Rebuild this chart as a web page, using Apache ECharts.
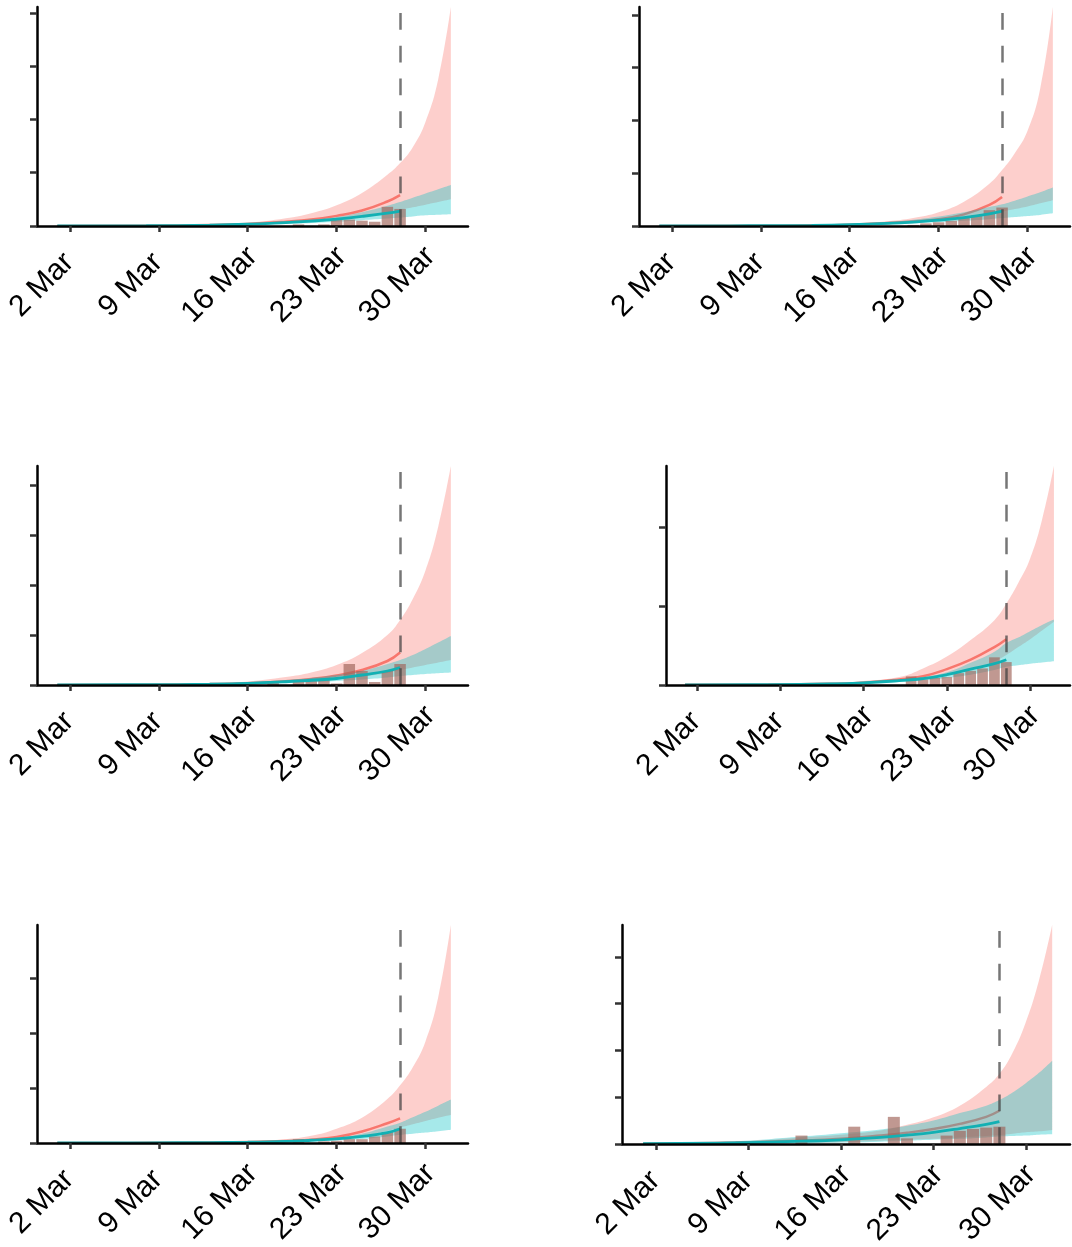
<!DOCTYPE html>
<html>
<head>
<meta charset="utf-8">
<script src="https://cdn.jsdelivr.net/npm/echarts@6/dist/echarts.min.js"></script>
<style>
html,body{margin:0;padding:0;background:#fff;}
#chart{width:1072px;height:1247px;}
</style>
</head>
<body>
<div id="chart"></div>
<script>
// ---------------- DATA ----------------
// day index: 0 = 1 Mar
const bandDays = [0, 7, 12, 15, 18, 20, 22, 24, 26, 27, 28, 29, 30, 31];
const lineDays = [0, 7, 12, 15, 18, 20, 22, 24, 26, 27];
const barDays  = [0,1,2,3,4,5,6,7,8,9,10,11,12,13,14,15,16,17,18,19,20,21,22,23,24,25,26,27];
const tickDays   = [1, 8, 15, 22, 29];
const tickLabels = ['2 Mar', '9 Mar', '16 Mar', '23 Mar', '30 Mar'];
const cutoffDay = 27;
const yMax   = [4.11, 4.15, 4.38, 2.77, 3.97, 4.68];
const yTicks = [[0,1,2,3,4],[0,1,2,3,4],[0,1,2,3,4],[0,1,2],[0,1,2,3],[0,1,2,3,4]];

const redUpper = [
  [0.005, 0.012, 0.03, 0.06, 0.145, 0.24, 0.39, 0.62, 0.96, 1.18, 1.48, 1.95, 2.75, 4.11],
  [0.003, 0.008, 0.02, 0.04, 0.09, 0.15, 0.26, 0.46, 0.8, 1.06, 1.38, 1.8, 2.6, 4.15],
  [0.003, 0.01, 0.03, 0.07, 0.16, 0.25, 0.4, 0.64, 1.0, 1.3, 1.72, 2.29, 3.16, 4.38],
  [0.002, 0.007, 0.02, 0.05, 0.1, 0.21, 0.36, 0.57, 0.82, 1.03, 1.29, 1.6, 2.09, 2.77],
  [0.002, 0.005, 0.015, 0.03, 0.07, 0.13, 0.26, 0.46, 0.8, 1.05, 1.38, 1.85, 2.65, 3.97],
  [0.01, 0.05, 0.14, 0.2, 0.29, 0.41, 0.57, 0.82, 1.22, 1.5, 1.95, 2.6, 3.5, 4.68]
];
const redLower = [
  [0, 0.004, 0.012, 0.025, 0.05, 0.08, 0.12, 0.18, 0.25, 0.3, 0.35, 0.4, 0.45, 0.5],
  [0, 0.003, 0.01, 0.02, 0.04, 0.06, 0.09, 0.14, 0.22, 0.27, 0.32, 0.37, 0.43, 0.49],
  [0, 0.004, 0.012, 0.025, 0.05, 0.08, 0.12, 0.17, 0.24, 0.3, 0.35, 0.4, 0.45, 0.5],
  [0, 0.003, 0.01, 0.02, 0.05, 0.08, 0.13, 0.19, 0.3, 0.38, 0.48, 0.58, 0.69, 0.8],
  [0, 0.002, 0.006, 0.012, 0.03, 0.05, 0.08, 0.13, 0.22, 0.28, 0.34, 0.4, 0.46, 0.51],
  [0, 0.005, 0.02, 0.04, 0.07, 0.09, 0.11, 0.14, 0.17, 0.19, 0.22, 0.25, 0.27, 0.3]
];
const redLine = [
  [0.002, 0.006, 0.018, 0.038, 0.08, 0.12, 0.19, 0.29, 0.46, 0.58],
  [0.002, 0.005, 0.012, 0.025, 0.055, 0.085, 0.13, 0.22, 0.4, 0.55],
  [0.002, 0.006, 0.018, 0.035, 0.075, 0.12, 0.19, 0.3, 0.48, 0.65],
  [0.002, 0.005, 0.015, 0.03, 0.07, 0.11, 0.2, 0.32, 0.48, 0.58],
  [0.001, 0.003, 0.008, 0.016, 0.035, 0.06, 0.11, 0.21, 0.36, 0.45],
  [0.005, 0.03, 0.07, 0.11, 0.18, 0.24, 0.32, 0.43, 0.58, 0.71]
];
const tealUpper = [
  [0.004, 0.01, 0.025, 0.05, 0.09, 0.12, 0.17, 0.26, 0.38, 0.45, 0.53, 0.61, 0.69, 0.77],
  [0.003, 0.008, 0.02, 0.04, 0.08, 0.12, 0.18, 0.26, 0.36, 0.41, 0.48, 0.56, 0.64, 0.73],
  [0.004, 0.01, 0.03, 0.055, 0.1, 0.14, 0.2, 0.28, 0.42, 0.5, 0.6, 0.72, 0.85, 0.98],
  [0.003, 0.008, 0.02, 0.04, 0.07, 0.1, 0.16, 0.28, 0.42, 0.53, 0.6, 0.68, 0.76, 0.83],
  [0.002, 0.005, 0.012, 0.025, 0.045, 0.07, 0.1, 0.17, 0.3, 0.37, 0.47, 0.57, 0.68, 0.79],
  [0.01, 0.06, 0.16, 0.23, 0.31, 0.39, 0.5, 0.66, 0.82, 0.94, 1.1, 1.3, 1.52, 1.78]
];
const tealLower = [
  [0, 0.003, 0.01, 0.02, 0.04, 0.055, 0.08, 0.11, 0.14, 0.16, 0.18, 0.2, 0.21, 0.22],
  [0, 0.002, 0.008, 0.015, 0.035, 0.05, 0.07, 0.1, 0.13, 0.15, 0.17, 0.19, 0.21, 0.24],
  [0, 0.003, 0.01, 0.02, 0.04, 0.055, 0.08, 0.11, 0.15, 0.18, 0.2, 0.22, 0.235, 0.25],
  [0, 0.003, 0.01, 0.02, 0.04, 0.06, 0.09, 0.13, 0.19, 0.23, 0.25, 0.27, 0.285, 0.3],
  [0, 0.001, 0.004, 0.008, 0.018, 0.03, 0.05, 0.075, 0.12, 0.15, 0.17, 0.19, 0.215, 0.24],
  [0, 0.005, 0.015, 0.03, 0.05, 0.07, 0.09, 0.11, 0.14, 0.16, 0.17, 0.18, 0.2, 0.21]
];
const tealLine = [
  [0.002, 0.005, 0.015, 0.033, 0.065, 0.09, 0.13, 0.18, 0.24, 0.28],
  [0.002, 0.005, 0.012, 0.025, 0.05, 0.075, 0.11, 0.16, 0.23, 0.28],
  [0.002, 0.006, 0.016, 0.033, 0.065, 0.095, 0.13, 0.2, 0.28, 0.35],
  [0.002, 0.005, 0.014, 0.028, 0.055, 0.08, 0.13, 0.2, 0.27, 0.32],
  [0.001, 0.003, 0.007, 0.014, 0.03, 0.05, 0.075, 0.12, 0.19, 0.26],
  [0.005, 0.025, 0.06, 0.09, 0.14, 0.19, 0.25, 0.33, 0.42, 0.48]
];
const cases = [
  [0,0,0,0,0,0,0,0,0,0, 0,0,0,0,0,0,0,0,0,0.03, 0,0.03,0.12,0.12,0.1,0.08,0.36,0.32],
  [0,0,0,0,0,0,0,0,0,0, 0,0,0,0,0,0,0,0,0,0, 0.02,0.05,0.07,0.1,0.17,0.2,0.3,0.35],
  [0,0,0,0,0,0,0,0,0,0, 0,0,0,0,0,0,0,0.08,0,0.06, 0.08,0.12,0.03,0.42,0.28,0.06,0.28,0.42],
  [0,0,0,0,0,0,0,0,0,0, 0,0,0,0,0,0,0,0,0,0.11, 0.07,0.09,0.1,0.15,0.18,0.21,0.35,0.29],
  [0,0,0,0,0,0,0,0,0,0, 0,0,0,0,0,0,0,0,0,0.07, 0,0.03,0.04,0.07,0.07,0.12,0.2,0.26],
  [0,0,0,0,0,0,0,0,0,0, 0,0,0.18,0,0,0,0.37,0,0,0.58, 0.12,0,0,0.18,0.28,0.32,0.35,0.37]
];

// ---------------- LAYOUT ----------------
const grids = [
  {left: 37,  top: 7,   width: 431, height: 219},
  {left: 639, top: 7,   width: 431, height: 219},
  {left: 37,  top: 466, width: 431, height: 219},
  {left: 666, top: 466, width: 404, height: 219},
  {left: 37,  top: 925, width: 431, height: 218},
  {left: 622, top: 925, width: 448, height: 219}
];
const xMinDay = -1.6, xMaxDay = 32.35;

const DAY = 86400000;
const START = Date.UTC(2020, 2, 1);
const ts = d => START + d * DAY;
const FONT = '"Liberation Sans", Arial, Helvetica, sans-serif';
const RED = '#F8766D', TEAL = '#00BFC4';
const BAR_FILL = 'rgba(159,98,88,0.66)';
const BAR_GAP = 1.2;

const option = {
  animation: false,
  useUTC: true,
  backgroundColor: '#ffffff',
  grid: [], xAxis: [], yAxis: [], series: []
};

grids.forEach((g, i) => {
  option.grid.push(Object.assign({containLabel: false, outerBoundsMode: 'none'}, g));
  // visible axis, in day units (ticks and labels)
  option.xAxis.push({
    type: 'value', gridIndex: i, position: 'bottom', min: xMinDay, max: xMaxDay, z: 20,
    axisLine: {show: true, onZero: false, lineStyle: {color: '#000', width: 2.5}},
    axisTick: {show: true, customValues: tickDays, length: 6, lineStyle: {color: '#333', width: 2.5}},
    axisLabel: {
      show: true, customValues: tickDays,
      formatter: v => {
        const k = tickDays.indexOf(Math.round(v));
        return k >= 0 ? tickLabels[k] : '';
      },
      rotate: 45, align: 'center', verticalAlign: 'middle',
      margin: 31, padding: [0, 79, 0, 0],
      fontSize: 30, fontFamily: FONT, color: '#000'
    },
    splitLine: {show: false}
  });
  // hidden time axis carrying the series (same span)
  option.xAxis.push({
    type: 'time', gridIndex: i, position: 'bottom', min: ts(xMinDay), max: ts(xMaxDay), show: false
  });
  option.yAxis.push({
    type: 'value', gridIndex: i, min: 0, max: yMax[i], z: 20,
    axisLine: {show: true, onZero: false, lineStyle: {color: '#000', width: 2.5}},
    axisTick: {show: true, customValues: yTicks[i], length: 7, lineStyle: {color: '#333', width: 2.5}},
    axisLabel: {show: false},
    splitLine: {show: false}
  });

  const xi = 2 * i + 1;
  const common = {xAxisIndex: xi, yAxisIndex: i, silent: true, symbol: 'none', showSymbol: false,
                  smooth: 0.45, emphasis: {disabled: true}};
  const bandLo = (lo) => bandDays.map((d, k) => [ts(d), lo[k]]);
  const bandDiff = (up, lo) => bandDays.map((d, k) => [ts(d), up[k] - lo[k]]);

  // red ribbon
  option.series.push(Object.assign({}, common, {
    type: 'line', z: 2, stack: 'red' + i, data: bandLo(redLower[i]),
    lineStyle: {opacity: 0, width: 0}
  }));
  option.series.push(Object.assign({}, common, {
    type: 'line', z: 2, stack: 'red' + i, data: bandDiff(redUpper[i], redLower[i]),
    lineStyle: {opacity: 0, width: 0},
    areaStyle: {color: RED, opacity: 0.35}
  }));
  // red fitted line
  option.series.push(Object.assign({}, common, {
    type: 'line', z: 3, data: lineDays.map((d, k) => [ts(d), redLine[i][k]]),
    lineStyle: {color: RED, width: 2.5}
  }));
  // teal ribbon
  option.series.push(Object.assign({}, common, {
    type: 'line', z: 4, stack: 'teal' + i, data: bandLo(tealLower[i]),
    lineStyle: {opacity: 0, width: 0}
  }));
  option.series.push(Object.assign({}, common, {
    type: 'line', z: 4, stack: 'teal' + i, data: bandDiff(tealUpper[i], tealLower[i]),
    lineStyle: {opacity: 0, width: 0},
    areaStyle: {color: TEAL, opacity: 0.35}
  }));
  // daily case bars
  option.series.push({
    type: 'custom', z: 5, xAxisIndex: xi, yAxisIndex: i, silent: true,
    data: barDays.map((d, k) => [ts(d), cases[i][k]]).filter(p => p[1] > 0),
    encode: {x: 0, y: 1},
    renderItem: (params, api) => {
      const x = api.value(0), v = api.value(1);
      const tl = api.coord([x - DAY / 2, v]);
      const br = api.coord([x + DAY / 2, 0]);
      return {
        type: 'rect',
        shape: {x: tl[0] + BAR_GAP / 2, y: tl[1], width: br[0] - tl[0] - BAR_GAP, height: br[1] - tl[1]},
        style: {fill: BAR_FILL}
      };
    }
  });
  // teal fitted line + cutoff marker
  option.series.push(Object.assign({}, common, {
    type: 'line', z: 6, data: lineDays.map((d, k) => [ts(d), tealLine[i][k]]),
    lineStyle: {color: '#12B0B3', width: 2.8},
    markLine: {
      z: 8, silent: true, symbol: ['none', 'none'], label: {show: false}, animation: false,
      lineStyle: {color: 'rgba(60,60,60,0.7)', width: 2.5, type: [16.7, 16]},
      emphasis: {disabled: true},
      data: [{xAxis: ts(cutoffDay)}]
    }
  }));
});

const chart = echarts.init(document.getElementById('chart'), null, {renderer: 'canvas'});
chart.setOption(option);
</script>
</body>
</html>
